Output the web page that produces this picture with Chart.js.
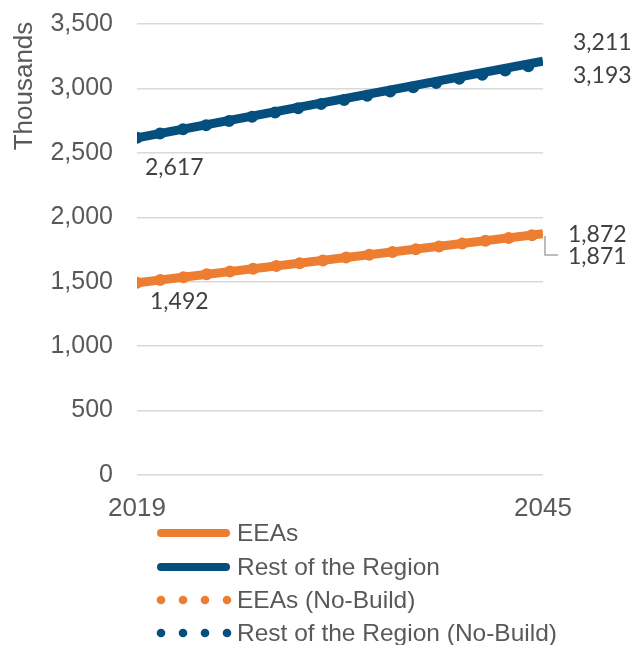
<!DOCTYPE html>
<html>
<head>
<meta charset="utf-8">
<script src="https://cdn.jsdelivr.net/npm/chart.js@4/dist/chart.umd.min.js"></script>
<style>
  html, body { margin: 0; padding: 0; background: #ffffff; }
  #wrap { width: 635px; height: 645px; position: relative; }
</style>
</head>
<body>
<div id="wrap"><canvas id="c" width="635" height="645"></canvas></div>
<script>
// ---- Data ----
const years = [2019, 2045];
const eeas = [1492, 1872];
const restOfRegion = [2617, 3211];
const eeasNoBuild = [1492, 1871];
const restOfRegionNoBuild = [2617, 3193];
const xTickLabels = [2019, 2045];
const yMax = 3500;
const yStep = 500;
const seriesNames = ['EEAs', 'Rest of the Region', 'EEAs (No-Build)', 'Rest of the Region (No-Build)'];

const ORANGE = '#ED7D31';
const BLUE = '#044F7E';
const TEXT = '#595959';
const LABEL = '#404040';

const toXY = arr => years.map((x, i) => ({ x: x, y: arr[i] }));

// Data labels: [datasetIndex, pointIndex, dx, dy]
const labelSpecs = [
  [1, 0, 8, 30],
  [0, 0, 13, 19],
  [1, 1, 30, -19],
  [3, 1, 30, 12],
  [0, 1, 25, 1],
  [2, 1, 25, 23]
];

const dataLabelPlugin = {
  id: 'dataLabels',
  afterDatasetsDraw(chart) {
    const ctx = chart.ctx;
    const xs = chart.scales.x, ys = chart.scales.y;
    ctx.save();
    ctx.font = '23px Lato';
    ctx.fillStyle = LABEL;
    ctx.textAlign = 'left';
    ctx.textBaseline = 'middle';
    labelSpecs.forEach(([di, pi, dx, dy]) => {
      const pt = chart.data.datasets[di].data[pi];
      const px = xs.getPixelForValue(pt.x);
      const py = ys.getPixelForValue(pt.y);
      ctx.fillText(pt.y.toLocaleString('en-US'), px + dx, py + dy);
    });
    // leader line for EEAs (No-Build) end label
    const pt = chart.data.datasets[2].data[1];
    const px = xs.getPixelForValue(pt.x);
    const py = ys.getPixelForValue(pt.y);
    ctx.strokeStyle = '#A6A6A6';
    ctx.lineWidth = 1.5;
    ctx.beginPath();
    ctx.moveTo(px + 2, py + 2);
    ctx.lineTo(px + 2, py + 21);
    ctx.lineTo(px + 15, py + 21);
    ctx.stroke();
    ctx.restore();
  }
};

const extrasPlugin = {
  id: 'extras',
  afterDraw(chart) {
    const ctx = chart.ctx;
    ctx.save();
    // y-axis title
    ctx.translate(25, 86);
    ctx.rotate(-Math.PI / 2);
    ctx.font = '26px "Liberation Sans"';
    ctx.fillStyle = TEXT;
    ctx.textAlign = 'center';
    ctx.textBaseline = 'middle';
    ctx.fillText('Thousands', 0, 0);
    ctx.restore();

    // legend (single column)
    ctx.save();
    const x0 = 157, x1 = 230, tx = 237;
    const rows = [533, 567, 600, 633];
    chart.data.datasets.forEach((ds, i) => {
      const y = rows[i];
      ctx.strokeStyle = ds.borderColor;
      ctx.lineWidth = 8;
      if (ds.borderDash && ds.borderDash.length) {
        ctx.fillStyle = ds.borderColor;
        for (let k = 0; k < 4; k++) {
          ctx.beginPath();
          ctx.arc(x0 + 4 + k * 22, y, 4.3, 0, Math.PI * 2);
          ctx.fill();
        }
      } else {
        ctx.lineCap = 'round';
        ctx.beginPath();
        ctx.moveTo(x0 + 4, y);
        ctx.lineTo(x1 - 4, y);
        ctx.stroke();
      }
      ctx.font = '24.5px "Liberation Sans"';
      ctx.fillStyle = TEXT;
      ctx.textAlign = 'left';
      ctx.textBaseline = 'middle';
      ctx.fillText(ds.label, tx, y + 1);
    });
    ctx.restore();
  }
};

new Chart(document.getElementById('c'), {
  type: 'line',
  data: {
    datasets: [
      { label: seriesNames[0], data: toXY(eeas), borderColor: ORANGE, backgroundColor: ORANGE, borderWidth: 9, pointRadius: 0, tension: 0 },
      { label: seriesNames[1], data: toXY(restOfRegion), borderColor: BLUE, backgroundColor: BLUE, borderWidth: 9, pointRadius: 0, tension: 0 },
      { label: seriesNames[2], data: toXY(eeasNoBuild), borderColor: ORANGE, backgroundColor: ORANGE, borderWidth: 12, pointRadius: 0, tension: 0, borderDash: [0, 23.4], borderCapStyle: 'round' },
      { label: seriesNames[3], data: toXY(restOfRegionNoBuild), borderColor: BLUE, backgroundColor: BLUE, borderWidth: 12, pointRadius: 0, tension: 0, borderDash: [0, 23.4], borderCapStyle: 'round' }
    ]
  },
  options: {
    responsive: false,
    animation: false,
    devicePixelRatio: 1,
    layout: { padding: { left: 0, right: 92, top: 24, bottom: 0 } },
    plugins: {
      legend: { display: false },
      tooltip: { enabled: false },
      title: { display: false }
    },
    scales: {
      x: {
        type: 'linear',
        min: years[0],
        max: years[years.length - 1],
        afterBuildTicks: s => { s.ticks = xTickLabels.map(v => ({ value: v })); },
        afterFit: s => { s.height = 170; s.paddingTop = 0; s.paddingBottom = 0; },
        grid: { display: false, drawTicks: false },
        border: { display: false },
        ticks: {
          color: TEXT,
          font: { family: 'Liberation Sans', size: 26 },
          padding: 18,
          maxRotation: 0,
          autoSkip: false,
          callback: v => String(v)
        }
      },
      y: {
        min: 0,
        max: yMax,
        afterFit: s => { s.width = 137; s.paddingTop = 0; s.paddingBottom = 0; },
        grid: { color: '#D9D9D9', lineWidth: 1.5, drawTicks: false },
        border: { display: false },
        ticks: {
          stepSize: yStep,
          color: TEXT,
          font: { family: 'Liberation Sans', size: 25 },
          padding: 24,
          callback: v => v.toLocaleString('en-US')
        }
      }
    }
  },
  plugins: [dataLabelPlugin, extrasPlugin]
});
</script>
</body>
</html>
